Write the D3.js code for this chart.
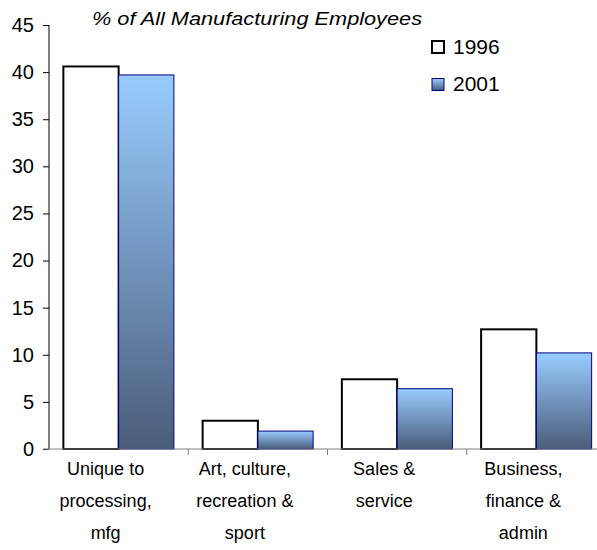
<!DOCTYPE html>
<html>
<head>
<meta charset="utf-8">
<script src="https://cdn.jsdelivr.net/npm/d3@7"></script>
<style>
  html, body { margin: 0; padding: 0; background: #fff; }
  svg { display: block; font-family: "Liberation Sans", Arial, sans-serif; }
</style>
</head>
<body>
<svg id="chart" width="597" height="550"></svg>
<script>
// Occupation groups (multi-line labels) and share of manufacturing employees
const categories = [
  ["Unique to", "processing,", "mfg"],
  ["Art, culture,", "recreation &", "sport"],
  ["Sales &", "service"],
  ["Business,", "finance &", "admin"]
];
const seriesNames = ["1996", "2001"];
const values1996 = [40.6, 3.0, 7.4, 12.7];
const values2001 = [39.7, 1.9, 6.4, 10.2];
const yTicks = [0, 5, 10, 15, 20, 25, 30, 35, 40, 45];
const title = "% of All Manufacturing Employees";

const svg = d3.select("#chart");
const catKeys = categories.map((c, i) => i);

const x = d3.scaleBand().domain(catKeys).range([49, 606]).paddingInner(0).paddingOuter(0);
const xInner = d3.scaleBand().domain(seriesNames).range([0, x.bandwidth()]).paddingInner(0).paddingOuter(0.26);
const y = d3.scaleLinear().domain([0, 45]).range([449, 25]);

// vertical gradient for the 2001 bars
const defs = svg.append("defs");
const grad = defs.append("linearGradient")
  .attr("id", "blueGrad").attr("x1", 0).attr("y1", 0).attr("x2", 0).attr("y2", 1);
grad.append("stop").attr("offset", "0%").attr("stop-color", "#99ccff");
grad.append("stop").attr("offset", "100%").attr("stop-color", "#4a5c7a");

// bars
const rows = catKeys.map(i => ({ i, v: [values1996[i], values2001[i]] }));
const groups = svg.append("g").selectAll("g").data(rows).join("g")
  .attr("transform", d => `translate(${x(d.i)},0)`);

groups.append("rect")
  .attr("x", xInner("1996"))
  .attr("y", d => y(d.v[0]))
  .attr("width", xInner.bandwidth())
  .attr("height", d => y(0) - y(d.v[0]))
  .attr("fill", "#ffffff").attr("stroke", "#000").attr("stroke-width", 2);

groups.append("rect")
  .attr("x", xInner("2001"))
  .attr("y", d => y(d.v[1]))
  .attr("width", xInner.bandwidth())
  .attr("height", d => y(0) - y(d.v[1]))
  .attr("fill", "url(#blueGrad)").attr("stroke", "#000080").attr("stroke-width", 1);

// y axis
const yAxis = svg.append("g").attr("transform", "translate(49,0)")
  .call(d3.axisLeft(y).tickValues(yTicks).tickSize(6).tickPadding(9).tickSizeOuter(0));
yAxis.select(".domain").attr("stroke", "#000").attr("d", `M0,${y(45)}V${y(0)}`);
yAxis.selectAll(".tick line").attr("stroke", "#000");
yAxis.selectAll(".tick text").attr("font-size", 20).attr("fill", "#000");

// x axis: baseline plus boundary ticks between categories
const xg = svg.append("g");
xg.append("line").attr("x1", 43).attr("x2", 597).attr("y1", y(0)).attr("y2", y(0))
  .attr("stroke", "#808080").attr("stroke-width", 1);
xg.selectAll("line.bt").data(catKeys.slice(1)).join("line").attr("class", "bt")
  .attr("x1", d => x(d)).attr("x2", d => x(d))
  .attr("y1", y(0)).attr("y2", y(0) + 6)
  .attr("stroke", "#808080");

// category labels
const lab = svg.append("g").selectAll("text").data(rows).join("text")
  .attr("text-anchor", "middle").attr("font-size", 18).attr("fill", "#000")
  .attr("transform", d => `translate(${x(d.i) + x.bandwidth() / 2 - 13},0)`);
lab.selectAll("tspan").data(d => categories[d.i]).join("tspan")
  .attr("x", 0).attr("y", (t, j) => 475 + j * 32).text(t => t);

// heading
svg.append("text").attr("x", 92).attr("y", 25)
  .attr("font-size", 19).attr("font-style", "italic").attr("fill", "#000")
  .attr("textLength", 330).attr("lengthAdjust", "spacingAndGlyphs").text(title);

// legend
const legend = svg.append("g");
const lg = legend.selectAll("g").data(seriesNames).join("g")
  .attr("transform", (d, i) => `translate(432,${41 + i * 37.5})`);
lg.append("rect").attr("width", 12).attr("height", 12)
  .attr("fill", (d, i) => i === 0 ? "#fff" : "url(#blueGrad)")
  .attr("stroke", (d, i) => i === 0 ? "#000" : "#000080")
  .attr("stroke-width", (d, i) => i === 0 ? 2 : 1);
lg.append("text").attr("x", 21).attr("y", 12.5).attr("font-size", 21).attr("fill", "#000").text(d => d);
</script>
</body>
</html>
